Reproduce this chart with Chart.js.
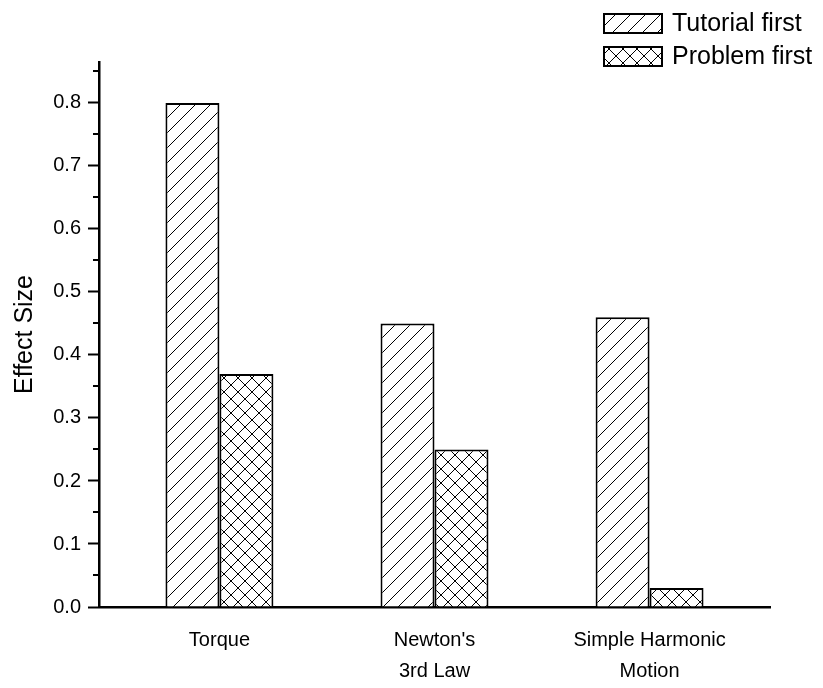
<!DOCTYPE html>
<html>
<head>
<meta charset="utf-8">
<script src="https://cdn.jsdelivr.net/npm/chart.js@4/dist/chart.umd.min.js"></script>
<style>
html,body{margin:0;padding:0;background:#fff;}
#wrap{width:823px;height:688px;position:relative;}
</style>
</head>
<body>
<div id="wrap"><canvas id="c" width="823" height="688"></canvas></div>
<script>
const categories = ["Torque", ["Newton's", "3rd Law"], ["Simple Harmonic", "Motion"]];
const categoryPositions = [1, 2, 3];
const seriesNames = ["Tutorial first", "Problem first"];
const tutorialFirst = [0.80, 0.45, 0.46];
const problemFirst = [0.37, 0.25, 0.03];
const yMajorTicks = [0, 0.1, 0.2, 0.3, 0.4, 0.5, 0.6, 0.7, 0.8];
const yMinorTicks = [0.05, 0.15, 0.25, 0.35, 0.45, 0.55, 0.65, 0.75, 0.85];

const FONT = "'Liberation Sans', Arial, sans-serif";

function makePattern(size, cross) {
  const c = document.createElement('canvas');
  c.width = size; c.height = size;
  const g = c.getContext('2d');
  g.fillStyle = '#fff';
  g.fillRect(0, 0, size, size);
  g.strokeStyle = '#000';
  g.lineWidth = 1;
  g.beginPath();
  g.moveTo(-1, size + 1); g.lineTo(size + 1, -1);
  g.moveTo(-1, 1); g.lineTo(1, -1);
  g.moveTo(size - 1, size + 1); g.lineTo(size + 1, size - 1);
  if (cross) {
    g.moveTo(-1, -1); g.lineTo(size + 1, size + 1);
    g.moveTo(size - 1, -1); g.lineTo(size + 1, 1);
    g.moveTo(-1, size - 1); g.lineTo(1, size + 1);
  }
  g.stroke();
  return g.createPattern(c, 'repeat');
}

const ctx = document.getElementById('c').getContext('2d');
const hatch = makePattern(15, false);
const crossHatch = makePattern(14, true);

const legendPlugin = {
  id: 'boxLegend',
  afterDraw(chart) {
    const g = chart.ctx;
    const items = chart.data.datasets;
    g.save();
    items.forEach((ds, i) => {
      const x = 604, y = 14 + i * 33, w = 58, h = 19;
      g.fillStyle = ds.backgroundColor;
      g.fillRect(x, y, w, h);
      g.strokeStyle = '#000';
      g.lineWidth = 2;
      g.strokeRect(x, y, w, h);
      g.fillStyle = '#000';
      g.font = '25px ' + FONT;
      g.textBaseline = 'middle';
      g.textAlign = 'left';
      g.fillText(ds.label, 672, y + h / 2 + 1);
    });
    g.restore();
  }
};

const minorTickPlugin = {
  id: 'minorTicks',
  afterDraw(chart) {
    const y = chart.scales.y;
    const g = chart.ctx;
    const x0 = chart.chartArea.left;
    g.save();
    g.strokeStyle = '#000';
    g.lineWidth = 2;
    yMinorTicks.forEach(v => {
      if (v > y.max) return;
      const py = Math.round(y.getPixelForValue(v));
      g.beginPath();
      g.moveTo(x0 - 6, py);
      g.lineTo(x0, py);
      g.stroke();
    });
    g.restore();
  }
};

new Chart(ctx, {
  type: 'bar',
  data: {
    datasets: [
      {
        label: seriesNames[0],
        data: categoryPositions.map((x, i) => ({ x: x, y: tutorialFirst[i] })),
        backgroundColor: hatch,
        borderColor: '#000',
        borderWidth: 2,
        borderSkipped: 'bottom'
      },
      {
        label: seriesNames[1],
        data: categoryPositions.map((x, i) => ({ x: x, y: problemFirst[i] })),
        backgroundColor: crossHatch,
        borderColor: '#000',
        borderWidth: 2,
        borderSkipped: 'bottom'
      }
    ]
  },
  options: {
    responsive: false,
    animation: false,
    events: [],
    layout: { padding: { top: 62, right: 53, left: 0, bottom: 0 } },
    datasets: { bar: { categoryPercentage: 0.502, barPercentage: 1.0, grouped: true } },
    plugins: {
      legend: { display: false },
      tooltip: { enabled: false }
    },
    scales: {
      x: {
        type: 'linear',
        offset: false,
        min: 0.44,
        max: 3.56,
        afterBuildTicks(scale) {
          scale.ticks = categoryPositions.map(v => ({ value: v }));
        },
        afterFit(scale) { scale.height = 688 - 607; },
        border: { display: true, color: '#000', width: 2.5 },
        grid: { display: true, offset: false, drawOnChartArea: false, drawTicks: false },
        ticks: {
          padding: 18,
          autoSkip: false,
          maxRotation: 0,
          color: '#000',
          font: { family: FONT, size: 20, lineHeight: 1.55 },
          callback(value) {
            const i = categoryPositions.indexOf(value);
            return i >= 0 ? categories[i] : '';
          }
        }
      },
      y: {
        min: 0,
        max: 0.865,
        afterBuildTicks(scale) {
          scale.ticks = yMajorTicks.map(v => ({ value: v }));
        },
        afterFit(scale) { scale.width = 99; },
        border: { display: true, color: '#000', width: 2.5 },
        grid: { display: true, drawOnChartArea: false, drawTicks: true, tickLength: 11, tickColor: '#000', tickWidth: 2 },
        ticks: {
          padding: 7,
          color: '#000',
          font: { family: FONT, size: 20 },
          callback(value) { return value.toFixed(1); }
        },
        title: {
          display: true,
          text: 'Effect Size',
          color: '#000',
          font: { family: FONT, size: 25 },
          padding: { top: 10, bottom: 0 }
        }
      }
    }
  },
  plugins: [legendPlugin, minorTickPlugin]
});
</script>
</body>
</html>
